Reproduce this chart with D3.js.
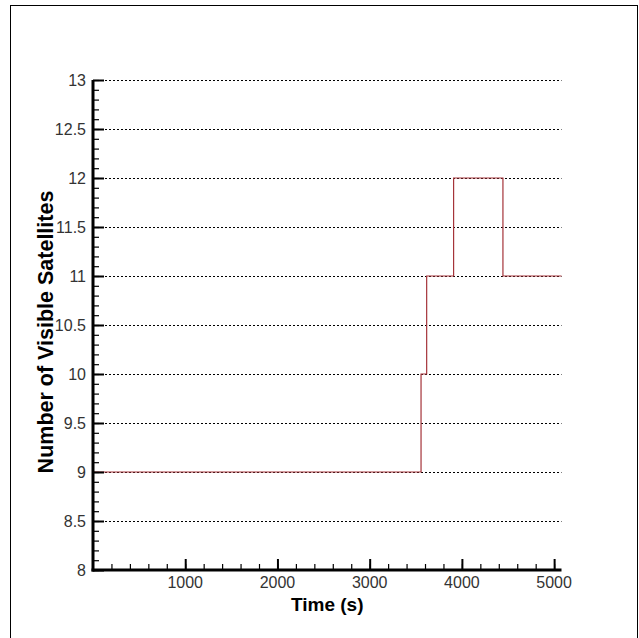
<!DOCTYPE html>
<html>
<head>
<meta charset="utf-8">
<script src="https://cdn.jsdelivr.net/npm/d3@7"></script>
<style>
  body { margin: 0; background: #fff; }
  svg { display: block; }
</style>
</head>
<body>
<svg id="chart" width="639" height="638"></svg>
<script>
// step data: time (s) where the count changes, and the count from then on
var times = [0, 3557, 3618, 3910, 4445, 5080];
var sats = [9, 10, 11, 12, 11, 11];

var xTicks = [1000, 2000, 3000, 4000, 5000];
var yTicks = [8, 8.5, 9, 9.5, 10, 10.5, 11, 11.5, 12, 12.5, 13];

var svg = d3.select('#chart');

// frame round the whole plot
svg.append('rect')
  .attr('x', 10.5).attr('y', 5.5)
  .attr('width', 627).attr('height', 700)
  .attr('fill', 'none').attr('stroke', '#000').attr('stroke-width', 1);

var x = d3.scaleLinear().domain([0, 5080]).range([93, 561.5]);
var y = d3.scaleLinear().domain([8, 13]).range([570, 80]);

// dotted grid lines
svg.append('g').selectAll('line')
  .data(yTicks.filter(function(d) { return d > 8; }))
  .enter().append('line')
  .attr('x1', x(0)).attr('x2', x(5080))
  .attr('y1', function(d) { return Math.round(y(d)) + 0.5; })
  .attr('y2', function(d) { return Math.round(y(d)) + 0.5; })
  .attr('stroke', '#000')
  .attr('stroke-width', 1)
  .attr('stroke-dasharray', '2,2');

// the step line
var line = d3.line()
  .x(function(d, i) { return x(times[i]); })
  .y(function(d) { return y(d); })
  .curve(d3.curveStepAfter);

svg.append('path')
  .datum(sats)
  .attr('d', line)
  .attr('fill', 'none')
  .attr('stroke', '#a5343a')
  .attr('stroke-width', 1.2);

// y axis - ticks point inwards
var yMinor = d3.range(80, 131).map(function(d) { return d / 10; });
svg.append('g')
  .attr('transform', 'translate(' + x(0) + ',0)')
  .call(d3.axisRight(y).tickValues(yMinor).tickSize(6).tickFormat(''))
  .call(function(g) { g.select('.domain').remove(); g.selectAll('line').attr('stroke-width', 1.2); });
svg.append('g')
  .attr('transform', 'translate(' + x(0) + ',0)')
  .call(d3.axisRight(y).tickValues(yTicks).tickSize(11).tickFormat(''))
  .call(function(g) { g.select('.domain').remove(); g.selectAll('line').attr('stroke-width', 2); });

svg.append('g').selectAll('text')
  .data(yTicks)
  .enter().append('text')
  .attr('x', 86)
  .attr('y', function(d) { return y(d); })
  .attr('dy', '0.36em')
  .attr('text-anchor', 'end')
  .attr('font-family', 'Liberation Sans, Arial, sans-serif')
  .attr('font-size', 16)
  .attr('fill', '#333')
  .text(function(d) { return d; });

// x axis - ticks point inwards too
var xMinor = d3.range(200, 5001, 200);
svg.append('g')
  .attr('transform', 'translate(0,' + y(8) + ')')
  .call(d3.axisTop(x).tickValues(xMinor).tickSize(6).tickFormat(''))
  .call(function(g) { g.select('.domain').remove(); g.selectAll('line').attr('stroke-width', 1.2); });
svg.append('g')
  .attr('transform', 'translate(0,' + y(8) + ')')
  .call(d3.axisTop(x).tickValues(xTicks).tickSize(11).tickFormat(''))
  .call(function(g) { g.select('.domain').remove(); g.selectAll('line').attr('stroke-width', 2); });

svg.append('g').selectAll('text')
  .data(xTicks)
  .enter().append('text')
  .attr('x', function(d) { return x(d); })
  .attr('y', 588)
  .attr('text-anchor', 'middle')
  .attr('font-family', 'Liberation Sans, Arial, sans-serif')
  .attr('font-size', 16)
  .attr('fill', '#333')
  .text(function(d) { return d; });

// axis lines drawn last so they sit on top
svg.append('line')
  .attr('x1', x(0)).attr('x2', x(0))
  .attr('y1', y(13)).attr('y2', y(8) + 1.5)
  .attr('stroke', '#000').attr('stroke-width', 3);
svg.append('line')
  .attr('x1', x(0) - 1.5).attr('x2', x(5080))
  .attr('y1', y(8)).attr('y2', y(8))
  .attr('stroke', '#000').attr('stroke-width', 3);

// titles
svg.append('text')
  .attr('x', (x(0) + x(5080)) / 2)
  .attr('y', 611)
  .attr('text-anchor', 'middle')
  .attr('font-family', 'Liberation Sans, Arial, sans-serif')
  .attr('font-weight', 'bold')
  .attr('font-size', 19)
  .text('Time (s)');

svg.append('text')
  .attr('transform', 'translate(53,332) rotate(-90)')
  .attr('text-anchor', 'middle')
  .attr('font-family', 'Liberation Sans, Arial, sans-serif')
  .attr('font-weight', 'bold')
  .attr('font-size', 21.5)
  .text('Number of Visible Satellites');
</script>
</body>
</html>
